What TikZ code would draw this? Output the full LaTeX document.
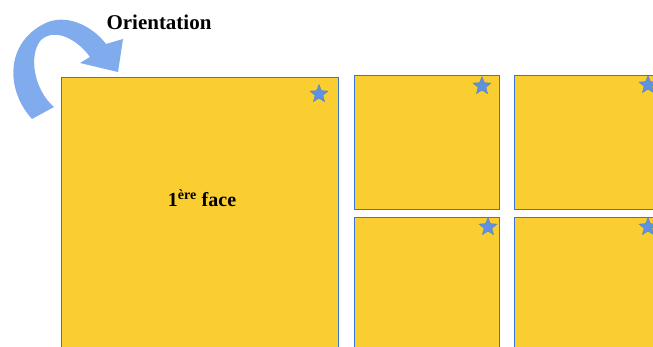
\documentclass[tikz,border=0pt]{standalone}
\usepackage{fontspec}
\setmainfont{Liberation Serif}
\usetikzlibrary{shapes.geometric}
\definecolor{faceyellow}{RGB}{250,206,48}
\definecolor{edgeblue}{RGB}{58,118,214}
\definecolor{starblue}{RGB}{95,145,225}
\definecolor{arrowblue}{RGB}{128,172,238}
\tikzset{
  facebox/.style={draw=edgeblue, fill=faceyellow, line width=1.4pt, anchor=north west, inner sep=0pt},
  facestar/.style={star, star points=5, star point ratio=2.3, fill=starblue, draw=starblue!85!black, line width=0.3pt, minimum size=19pt, inner sep=0pt},
  lbl/.style={text=black, inner sep=0pt, anchor=base}
}
\begin{document}
\begin{tikzpicture}[x=1pt,y=-1pt]
\useasboundingbox (0,0) rectangle (653,347);
\clip (0,0) rectangle (653,347);
\fill[white] (0,0) rectangle (653,347);
% faces
\node[facebox, minimum width=277pt, minimum height=300pt] (big) at (61,77) {};
\node[facebox, minimum width=145pt, minimum height=134pt] (tm) at (354,75) {};
\node[facebox, minimum width=190pt, minimum height=134pt] (tr) at (514,75) {};
\node[facebox, minimum width=145pt, minimum height=150pt] (bm) at (354,217) {};
\node[facebox, minimum width=190pt, minimum height=150pt] (br) at (514,217) {};
% stars
\node[facestar] (s1) at (319,94) {};
\node[facestar] (s2) at (482,86) {};
\node[facestar] (s3) at (648,85) {};
\node[facestar] (s4) at (488,227) {};
\node[facestar] (s5) at (648,227) {};
% labels
\node[lbl, font=\bfseries\fontsize{20}{24}\selectfont] (face) at (202,207) {1\textsuperscript{ère} face};
\node[lbl, font=\bfseries\fontsize{21}{25}\selectfont] (orient) at (159,30) {Orientation};
% curved arrow
\fill[arrowblue] (32,119)
  .. controls (4,88) and (6,40) .. (48,22)
  .. controls (70,14) and (94,28) .. (106,44)
  -- (123,39) -- (118,72) -- (80,63) -- (90,57)
  .. controls (78,40) and (55,27) .. (41,40)
  .. controls (28,55) and (34,90) .. (54,107)
  -- cycle;
\end{tikzpicture}
\end{document}
